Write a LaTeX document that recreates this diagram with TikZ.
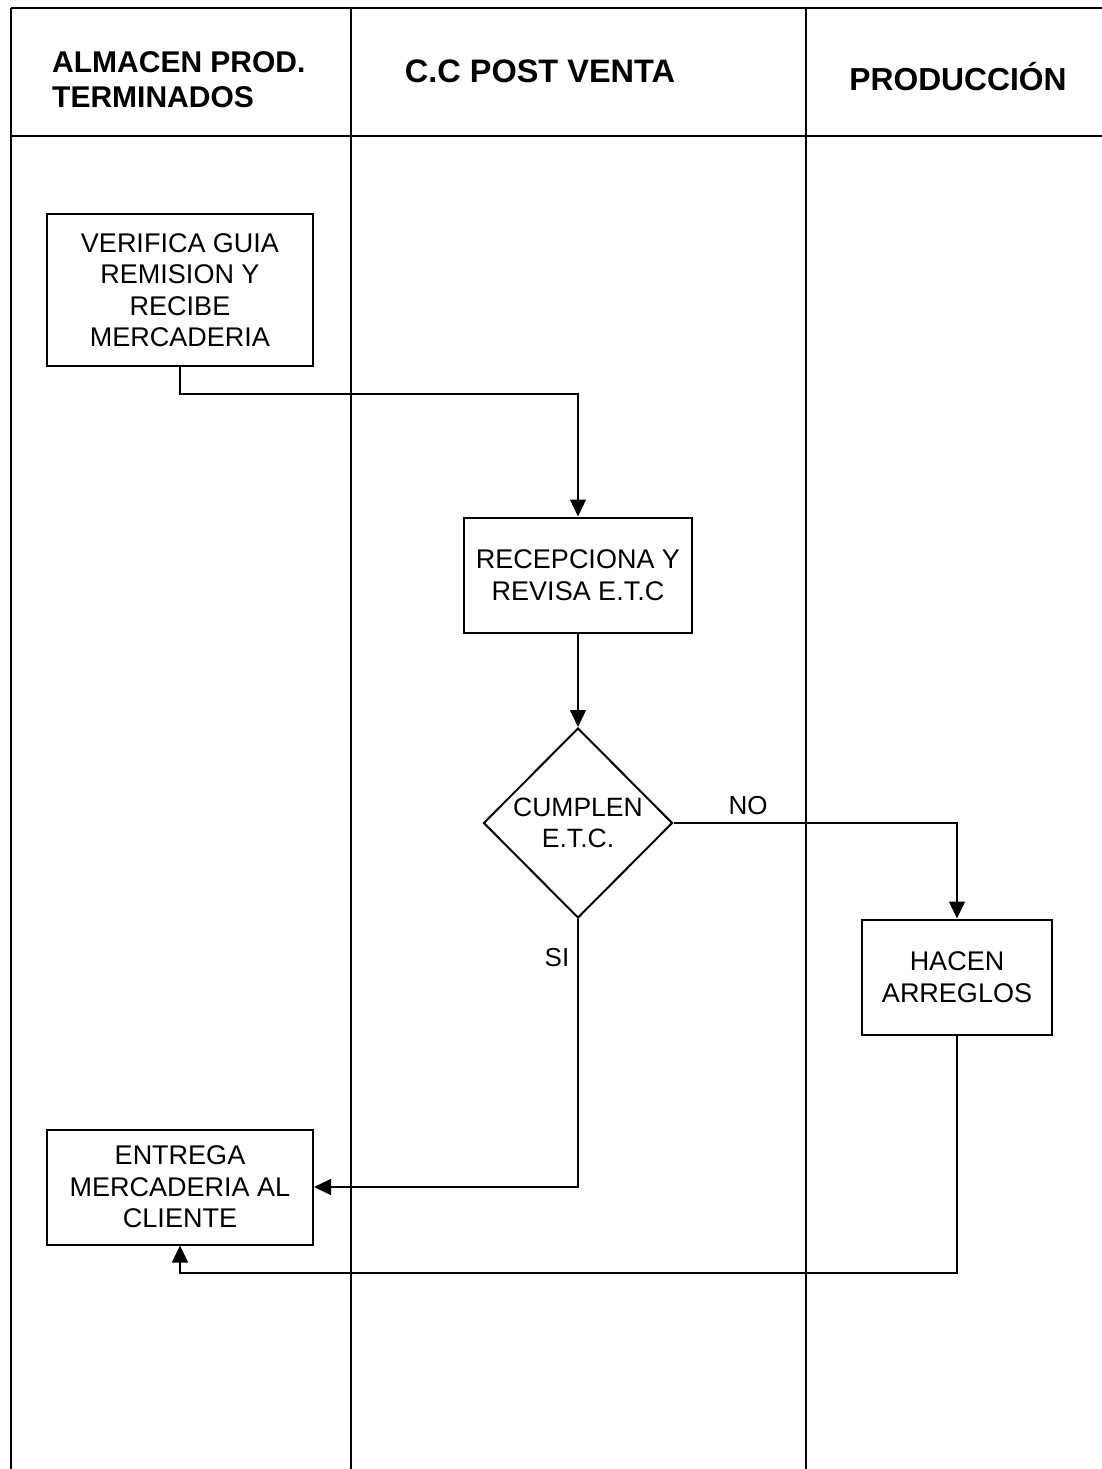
\documentclass[tikz,border=0pt]{standalone}
\usepackage{fontspec}
\setmainfont{Liberation Sans}
\usetikzlibrary{arrows.meta,shapes.geometric}
\begin{document}
\begin{tikzpicture}[x=1pt,y=-1pt,
  grid/.style={line width=1.8pt,black},
  gridv/.style={line width=1.3pt,black},
  procbox/.style={draw,line width=2pt,minimum width=#1,align=center,inner sep=0pt,
    font=\fontsize{27}{31.5}\selectfont},
  decision/.style={draw,diamond,line width=2pt,inner sep=0pt,minimum width=189pt,minimum height=190pt,
    align=center,font=\fontsize{26.5}{31.5}\selectfont},
  conn/.style={line width=1.3pt,-{Triangle[length=17pt,width=16pt]}},
  head/.style={font=\bfseries\fontsize{30}{35}\selectfont,inner sep=0pt},
  lbl/.style={font=\fontsize{26}{30}\selectfont,inner sep=0pt}
]
\useasboundingbox (0,0) rectangle (1102,1469);
% table
\draw[grid] (11,8) -- (1102,8);
\draw[grid] (11,136) -- (1102,136);
\draw[gridv] (11,8) -- (11,1469);
\draw[gridv] (351,8) -- (351,1469);
\draw[gridv] (806,8) -- (806,1469);
% headers
\node[head,anchor=west,align=left] (h1) at (52,80) {ALMACEN PROD.\\TERMINADOS};
\node[head,font=\bfseries\fontsize{32.5}{35}\selectfont] (h2) at (540,71) {C.C POST VENTA};
\node[head,font=\bfseries\fontsize{31.8}{35}\selectfont] (h3) at (958,77) {PRODUCCIÓN};
% boxes
\node[procbox=266pt,minimum height=152pt] (b1) at (180,290) {VERIFICA GUIA\\REMISION Y\\RECIBE\\MERCADERIA};
\node[procbox=228pt,minimum height=115pt] (b2) at (578,575) {RECEPCIONA Y\\REVISA E.T.C};
\node[decision] (d) at (578,823) {CUMPLEN\\E.T.C.};
\node[procbox=190pt,minimum height=115pt] (b3) at (957,977) {HACEN\\ARREGLOS};
\node[procbox=266pt,minimum height=115pt] (b4) at (180,1187) {ENTREGA\\MERCADERIA AL\\CLIENTE};
% coordinates
\coordinate (c1) at (180,394);
\coordinate (c2) at (578,394);
\coordinate (c3) at (957,823);
\coordinate (c4) at (578,1187);
\coordinate (c5) at (957,1273);
\coordinate (c6) at (180,1273);
% connectors
\draw[conn] (b1.south) -- (c1) -- (c2) -- (b2.north);
\draw[conn] (b2.south) -- (d.north);
\draw[conn] (d.east) -- (c3) -- (b3.north);
\draw[conn] (d.south) -- (c4) -- (b4.east);
\draw[conn] (b3.south) -- (c5) -- (c6) -- (b4.south);
% labels
\node[lbl] (no) at (748,806) {NO};
\node[lbl] (si) at (557,958) {SI};
\end{tikzpicture}
\end{document}
